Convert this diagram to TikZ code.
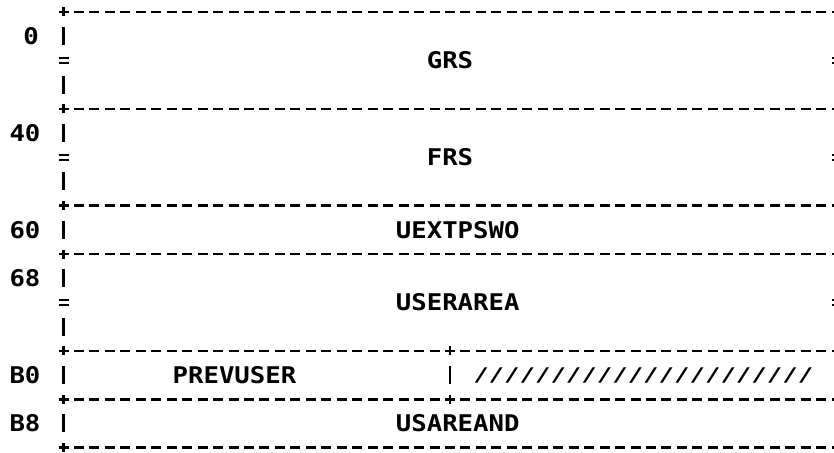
\documentclass[tikz,border=0pt]{standalone}
\usepackage{fontspec}
\usepackage{graphicx}
\newfontfamily\layoutmono{DejaVu Sans Mono}[BoldFont={DejaVu Sans Mono Bold}]
% monospaced text, widened so that one character takes one grid column
\newcommand\gridtext[1]{\scalebox{1.116}[1]{#1}}
\tikzset{
  declare function={cx(\c)=63.5+\c*15.46; ry(\r)=12+\r*24.2;},
  rule/.style={line width=2.6pt, black},
  hline/.style={rule, dash pattern=on 10pt off 5.46pt},
  field/.style={inner sep=0pt, font=\layoutmono\bfseries\fontsize{23}{24}\selectfont},
}
\begin{document}
\begin{tikzpicture}[x=1pt,y=-1pt]
\useasboundingbox (0,0) rectangle (834,452);

% dashed separators between the fields
\foreach \r in {0,4,8,10,14,16,18} {
  \draw[hline] ({cx(0)-5},{ry(\r)}) -- ({cx(50)+5},{ry(\r)});
  \foreach \c in {0,50}
    \draw[rule] ({cx(\c)},{ry(\r)-4.5}) -- ({cx(\c)},{ry(\r)+4.5});
}
% the split of the B0 row
\foreach \r in {14,16}
  \draw[rule] ({cx(25)},{ry(\r)-4.5}) -- ({cx(25)},{ry(\r)+4.5});

% vertical bars of the side walls
\foreach \r in {1,3,5,7,9,11,13,15,17}
  \foreach \c in {0,50}
    \draw[rule] ({cx(\c)},{ry(\r)-9}) -- ({cx(\c)},{ry(\r)+9});
\draw[rule] ({cx(25)},{ry(15)-9}) -- ({cx(25)},{ry(15)+9});

% "=" marks for fields of variable length
\foreach \r in {2,6,12}
  \foreach \c in {0,50} {
    \draw[line width=1.8pt] ({cx(\c)-5},{ry(\r)-2.5}) -- ({cx(\c)+5},{ry(\r)-2.5});
    \draw[line width=1.8pt] ({cx(\c)-5},{ry(\r)+2.5}) -- ({cx(\c)+5},{ry(\r)+2.5});
  }

% offsets
\node[field] (off0)  at (31,{ry(1)})   {\gridtext{0}};
\node[field] (off40) at (25,{ry(5)})   {\gridtext{40}};
\node[field] (off60) at (25,{ry(9)})   {\gridtext{60}};
\node[field] (off68) at (25,{ry(11)})  {\gridtext{68}};
\node[field] (offB0) at (25,{ry(15)})  {\gridtext{B0}};
\node[field] (offB8) at (25,{ry(17)})  {\gridtext{B8}};

% field names
\node[field] (grs)      at ({cx(25)},{ry(2)})    {\gridtext{GRS}};
\node[field] (frs)      at ({cx(25)},{ry(6)})    {\gridtext{FRS}};
\node[field] (uextpswo) at ({cx(25.5)},{ry(9)})  {\gridtext{UEXTPSWO}};
\node[field] (userarea) at ({cx(25.5)},{ry(12)}) {\gridtext{USERAREA}};
\node[field] (prevuser) at (234.5,{ry(15)})      {\gridtext{PREVUSER}};
\node[field] (reserved) at ({cx(37.5)},{ry(15)}) {\scalebox{1.116}[0.82]{//////////////////////}};
\node[field] (usareand) at ({cx(25.5)},{ry(17)}) {\gridtext{USAREAND}};
\end{tikzpicture}
\end{document}
